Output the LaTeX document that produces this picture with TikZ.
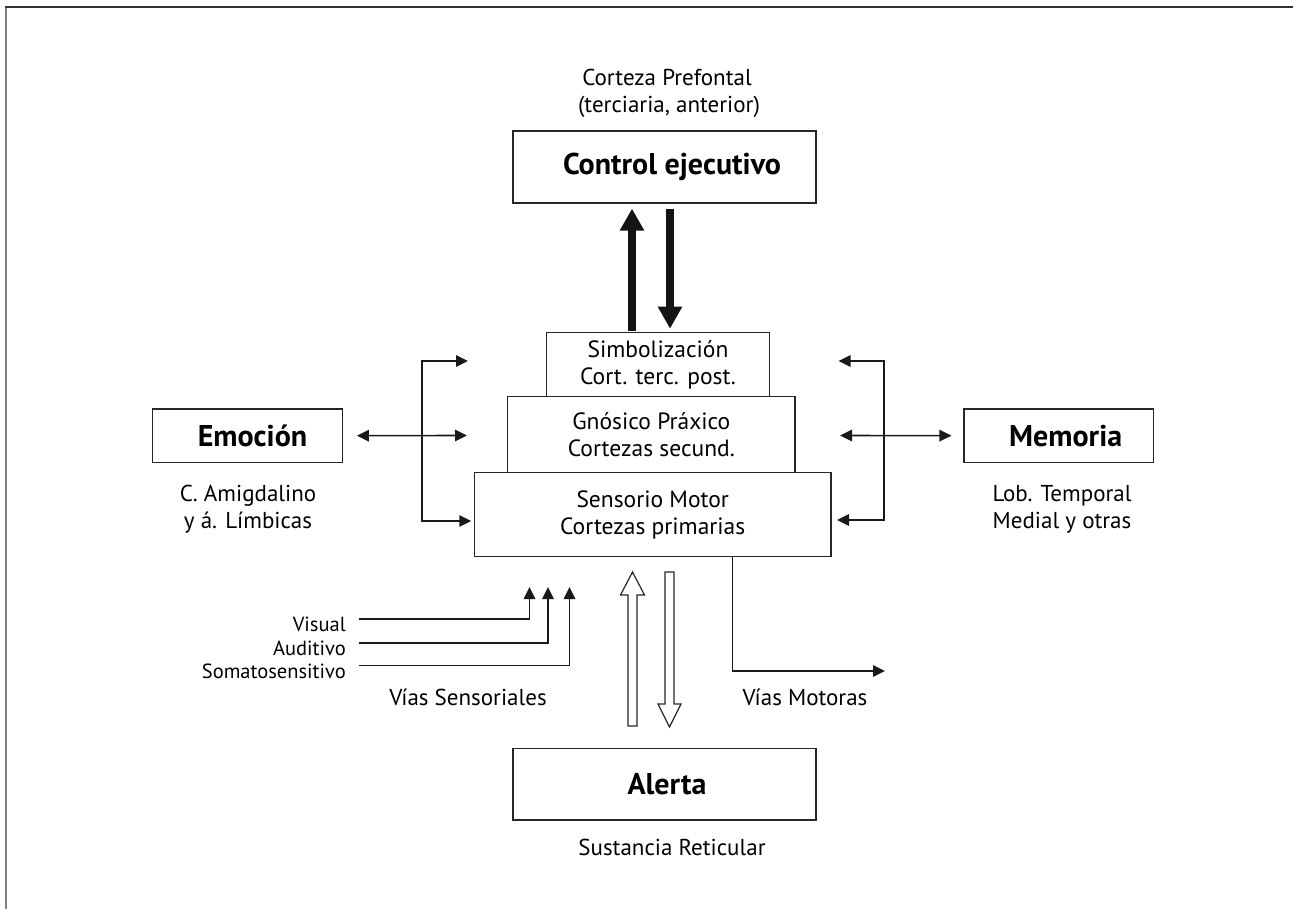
\documentclass[tikz,border=0pt]{standalone}
\usepackage{fontspec}
\setmainfont{PT Sans}
\usetikzlibrary{arrows.meta,calc}
\tikzset{
  boxnode/.style={draw=black!85, line width=1.2pt, inner sep=0pt, align=center,
    font=\fontsize{23.5}{27}\selectfont},
  titlebox/.style={draw=black!85, line width=1.2pt, inner sep=0pt,
    font=\fontsize{30}{34}\selectfont\bfseries},
  lbl/.style={inner sep=0pt, anchor=base, font=\fontsize{23}{26}\selectfont},
  smalllbl/.style={inner sep=0pt, anchor=base east, font=\fontsize{20.5}{23}\selectfont},
  arr/.style={line width=1.6pt, black!90, -{Triangle[length=12pt,width=11.5pt]}},
  darr/.style={line width=1.6pt, black!90, {Triangle[length=12pt,width=11.5pt]}-{Triangle[length=12pt,width=11.5pt]}},
  bigarr/.style={line width=8.5pt, black!92, -{Triangle[length=22pt,width=23pt]}},
  openarr/.style={draw=black!85, line width=1.2pt, fill=white},
}
\begin{document}
\begin{tikzpicture}[x=1pt,y=-1pt]
\useasboundingbox (0,0) rectangle (1293,909);
% frame
\draw[line width=2pt, gray] (6,909) -- (6,7);
\draw[line width=1.5pt, black!80] (5,7) -- (1293,7);

% main boxes
\node[titlebox, minimum width=303pt, minimum height=72pt] (ctrl) at (664.5,167) {\hspace*{15pt}Control ejecutivo};
\node[boxnode, minimum width=222.6pt, minimum height=64.4pt] (sim) at (658,364.5) {Simbolización\\Cort. terc. post.};
\node[boxnode, minimum width=287.3pt, minimum height=76pt] (gno) at (651.3,434.7) {Gnósico Práxico\\Cortezas secund.};
\node[boxnode, minimum width=356.7pt, minimum height=84pt] (sen) at (652.7,514.8) {Sensorio Motor\\Cortezas primarias};
\node[titlebox, minimum width=189.6pt, minimum height=53.3pt] (emo) at (247.5,435.7) {\hspace*{10pt}Emoción};
\node[titlebox, minimum width=189.3pt, minimum height=53.3pt] (mem) at (1058.7,435.7) {\hspace*{14pt}Memoria};
\node[titlebox, minimum width=303pt, minimum height=71.7pt] (ale) at (664.5,784.2) {\hspace*{5pt}Alerta};

% labels
\node[lbl] (cp1) at (667,86) {Corteza Prefontal};
\node[lbl] (cp2) at (669,112.5) {(terciaria, anterior)};
\node[lbl] (em1) at (248,501.7) {C. Amigdalino};
\node[lbl] (em2) at (248,528.3) {y á. Límbicas};
\node[lbl] (me1) at (1062,501.7) {Lob. Temporal};
\node[lbl] (me2) at (1062,528.3) {Medial y otras};
\node[lbl] (sr) at (672,855.5) {Sustancia Reticular};
\node[lbl] (vs) at (468,705) {Vías Sensoriales};
\node[lbl] (vm) at (805,705.5) {Vías Motoras};
\node[smalllbl] (vis) at (346,631.7) {Visual};
\node[smalllbl] (aud) at (346,655.7) {Auditivo};
\node[smalllbl] (som) at (346,678.4) {Somatosensitivo};

% thick arrows between control and simbolizacion
\draw[bigarr, shorten <=1pt, shorten >=5pt] (632,0 |- sim.north) -- (632,0 |- ctrl.south);
\draw[bigarr, shorten <=5pt, shorten >=3pt] (670,0 |- ctrl.south) -- (670,0 |- sim.north);

% left connectors
\coordinate (lv1) at (422,361);
\coordinate (lv3) at (422,521);
\coordinate (lt1) at (468,361);
\coordinate (lt2) at (467,435.5);
\draw[darr, shorten >=2.5pt] (lt1) -- (lv1) -- (lv3) -- (sen.west |- lv3);
\draw[darr, shorten <=14pt] (emo.east) -- (lt2);

% right connectors
\coordinate (rv1) at (884,361);
\coordinate (rv3) at (884,520);
\coordinate (rt1) at (838.5,361);
\coordinate (rt2) at (840,435.5);
\draw[darr, shorten >=5.5pt] (rt1) -- (rv1) -- (rv3) -- (sen.east |- rv3);
\draw[darr, shorten >=12pt] (rt2) -- (mem.west);

% sensory pathways
\coordinate (s1) at (529.5,587);
\coordinate (s2) at (548,587);
\coordinate (s3) at (569.5,587);
\draw[arr] ([xshift=13pt,yshift=5.7pt]vis.east) -| (s1);
\draw[arr] ([xshift=13pt,yshift=5.7pt]aud.east) -| (s2);
\draw[arr] ([xshift=13pt,yshift=5.7pt]som.east) -| (s3);

% motor pathway
\coordinate (mend) at (885,671);
\draw[arr] (732.3,0 |- sen.south) |- (mend);

% open arrows between alerta and sensorio
\draw[openarr] (628,726) -- (628,595) -- (620.5,595) -- (632.5,572) -- (644.5,595) -- (637,595) -- (637,726) -- cycle;
\draw[openarr] (665,572) -- (674,572) -- (674,704) -- (681,704) -- (669.5,727) -- (658,704) -- (665,704) -- cycle;
\end{tikzpicture}
\end{document}
